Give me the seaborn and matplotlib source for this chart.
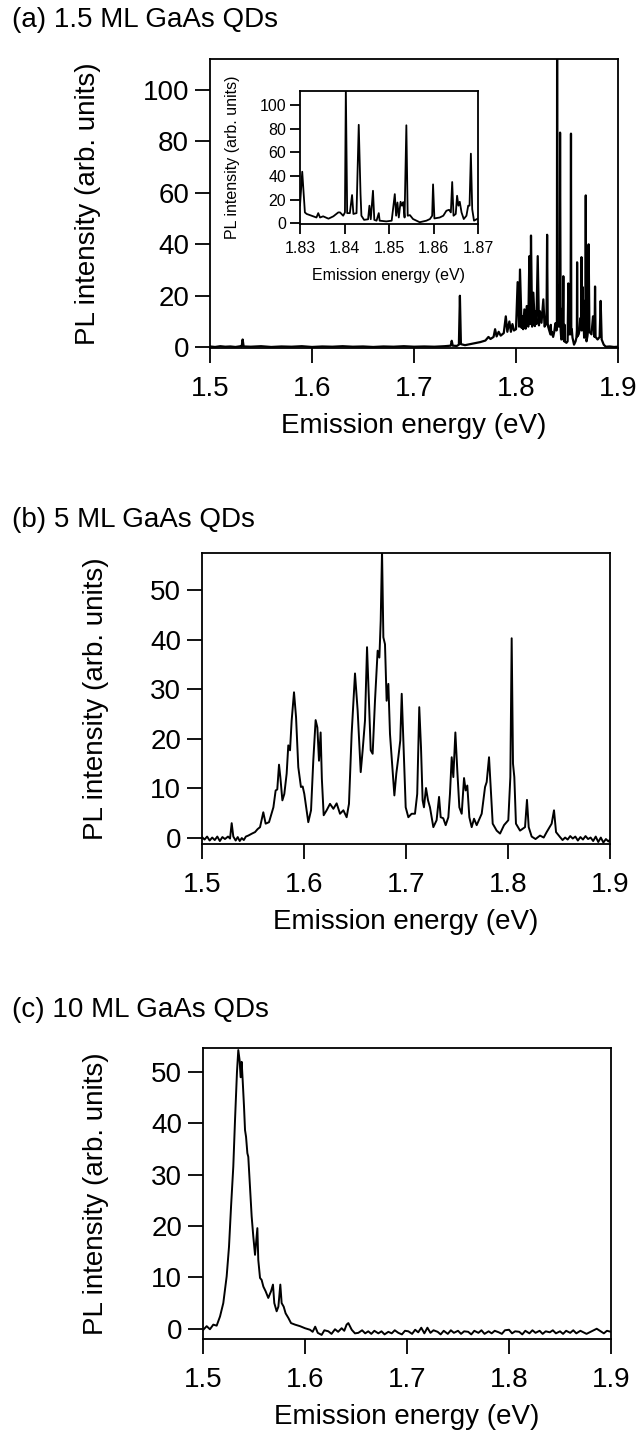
import numpy as np
import pandas as pd
import seaborn as sns
import matplotlib.pyplot as plt

# (a) 1.5 ML, main panel outside the zoom window
a_low_e = [1.500, 1.505, 1.510, 1.515, 1.520, 1.525, 1.530, 1.531, 1.532, 1.533,
           1.540, 1.550, 1.560, 1.570, 1.580, 1.590, 1.600, 1.610, 1.620, 1.630,
           1.640, 1.650, 1.660, 1.670, 1.680, 1.690, 1.700, 1.710, 1.720, 1.730,
           1.736, 1.737, 1.738, 1.742, 1.744, 1.745, 1.746, 1.750, 1.755, 1.760,
           1.765, 1.770, 1.773, 1.775, 1.778, 1.7795, 1.781, 1.783, 1.785, 1.788,
           1.790, 1.7915, 1.7935, 1.795, 1.7965, 1.798, 1.800, 1.8016, 1.803, 1.8039,
           1.8055, 1.806, 1.807, 1.8082, 1.8095, 1.8105, 1.812, 1.8131, 1.814, 1.8147,
           1.8158, 1.817, 1.8185, 1.819, 1.820, 1.8213, 1.8225, 1.8235, 1.825, 1.8268,
           1.828, 1.8295]
a_low_i = [0.3, 0.1, 0.4, 0.2, 0.3, 0.1, 0.4, 0.2, 3.0, 0.3,
           0.2, 0.4, 0.1, 0.3, 0.2, 0.4, 0.1, 0.3, 0.2, 0.4,
           0.2, 0.3, 0.1, 0.3, 0.2, 0.4, 0.2, 0.3, 0.2, 0.4,
           0.6, 2.5, 0.6, 0.5, 1.0, 20.0, 1.2, 0.8, 1.2, 1.6,
           2.0, 2.6, 4.0, 3.2, 4.0, 7.0, 4.2, 6.0, 4.5, 5.5,
           12.0, 6.0, 10.0, 6.0, 9.0, 6.5, 7.0, 25.3, 8.0, 30.2,
           7.5, 12.0, 7.0, 14.7, 7.2, 16.0, 8.0, 35.4, 9.0, 43.4,
           8.0, 21.2, 8.2, 14.0, 9.0, 35.4, 8.5, 14.0, 9.5, 18.6,
           8.0, 9.0]

# (a) inset window 1.83 - 1.87 eV
in_e = [1.8300, 1.8305, 1.8311, 1.8315, 1.8326, 1.8337, 1.8341, 1.8345, 1.8352, 1.8364,
        1.8375, 1.8386, 1.8390, 1.8397, 1.8401, 1.8403, 1.8406, 1.8412, 1.8417, 1.8420,
        1.8427, 1.8432, 1.8436, 1.8438, 1.8444, 1.8453, 1.8456, 1.8459, 1.8464, 1.8467,
        1.8472, 1.8477, 1.8479, 1.8494, 1.8506, 1.8510, 1.8513, 1.8516, 1.8519, 1.8522,
        1.8526, 1.8529, 1.8532, 1.8535, 1.8539, 1.8542, 1.8547, 1.8554, 1.8569, 1.8584,
        1.8592, 1.8597, 1.8599, 1.8602, 1.8614, 1.8622, 1.8629, 1.8635, 1.8639, 1.8642,
        1.8645, 1.8650, 1.8653, 1.8656, 1.8659, 1.8663, 1.8668, 1.8674, 1.8678, 1.8681,
        1.8684, 1.8687, 1.8691, 1.8700]
in_i = [15.0, 43.7, 9.3, 8.0, 6.5, 5.0, 8.7, 5.0, 6.0, 4.0,
        6.0, 9.3, 9.3, 6.5, 9.3, 115.0, 8.7, 8.7, 24.0, 8.0,
        8.7, 83.4, 25.0, 6.5, 3.0, 3.5, 15.0, 3.5, 27.6, 3.0,
        2.3, 8.7, 2.3, 1.7, 2.3, 15.0, 24.8, 6.5, 17.7, 5.0,
        18.3, 15.0, 18.0, 5.0, 83.0, 6.5, 7.0, 3.7, 1.0, 2.3,
        3.7, 6.5, 33.0, 4.2, 5.0, 6.5, 10.7, 11.5, 9.3, 35.0,
        6.5, 8.0, 23.4, 15.0, 18.3, 9.3, 3.7, 6.5, 15.0, 15.0,
        59.0, 12.0, 2.3, 4.2]

a_high_e = [1.8705, 1.8712, 1.872, 1.874, 1.8755, 1.877, 1.8775, 1.878, 1.880, 1.882,
            1.883, 1.884, 1.886, 1.888, 1.892, 1.896, 1.900]
a_high_i = [6.0, 40.0, 6.0, 5.0, 12.0, 4.0, 23.6, 4.0, 3.0, 4.0,
            18.0, 3.0, 1.0, 0.2, 0.3, 0.1, 0.2]

# (b) 5 ML
b_e = [1.500, 1.5025, 1.505, 1.5075, 1.510, 1.5125, 1.515, 1.5175, 1.520, 1.5225,
       1.5255, 1.5275, 1.5291, 1.5307, 1.533, 1.535, 1.537, 1.539, 1.541, 1.543,
       1.5454, 1.549, 1.552, 1.5545, 1.5569, 1.5601, 1.5624, 1.5657, 1.570, 1.5722,
       1.5738, 1.5755, 1.5768, 1.5788, 1.5807, 1.583, 1.5846, 1.5863, 1.5879, 1.5902,
       1.5922, 1.5944, 1.597, 1.5987, 1.6003, 1.6042, 1.6069, 1.6091, 1.6114, 1.6131,
       1.6147, 1.6163, 1.6175, 1.6193, 1.6222, 1.6255, 1.6288, 1.632, 1.6353, 1.6386,
       1.6418, 1.6441, 1.6467, 1.650, 1.6526, 1.6556, 1.6575, 1.6598, 1.6618, 1.6634,
       1.6654, 1.6673, 1.6696, 1.6722, 1.6739, 1.6752, 1.6765, 1.6778, 1.6794, 1.681,
       1.6827, 1.6843, 1.6866, 1.6886, 1.6905, 1.6925, 1.6944, 1.6958, 1.6974, 1.6997,
       1.7023, 1.7055, 1.7088, 1.711, 1.713, 1.7147, 1.7163, 1.7176, 1.7196, 1.7216,
       1.7235, 1.7268, 1.730, 1.7324, 1.734, 1.7365, 1.7389, 1.7415, 1.7431, 1.7448,
       1.7464, 1.7484, 1.7503, 1.7523, 1.7546, 1.7569, 1.7585, 1.7601, 1.7621, 1.7644,
       1.7667, 1.7693, 1.7742, 1.7775, 1.7791, 1.7814, 1.783, 1.785, 1.7889, 1.7922,
       1.7961, 1.8003, 1.8023, 1.8036, 1.8049, 1.8062, 1.8078, 1.8118, 1.8167, 1.8186,
       1.8203, 1.8232, 1.827, 1.8314, 1.835, 1.8379, 1.8428, 1.8451, 1.8471, 1.851,
       1.8535, 1.856, 1.8585, 1.861, 1.8635, 1.866, 1.8685, 1.871, 1.8735, 1.876,
       1.8785, 1.881, 1.8835, 1.886, 1.8885, 1.891, 1.8935, 1.896, 1.8985, 1.900]
b_i = [0.2, -0.3, 0.3, -0.5, 0.1, -0.4, 0.3, -0.6, 0.2, -0.2,
       0.3, -0.1, 3.0, 0.3, -0.5, 0.2, -0.6, 0.0, -0.4, 0.3,
       0.5, 0.9, 1.2, 1.8, 2.2, 5.2, 2.9, 3.2, 6.2, 9.6,
       9.8, 14.8, 12.3, 7.6, 8.9, 13.0, 18.7, 17.7, 23.7, 29.4,
       24.4, 14.3, 10.3, 10.4, 8.9, 3.2, 5.6, 15.6, 23.8, 22.3,
       15.6, 21.3, 12.0, 4.6, 5.6, 6.9, 5.9, 7.0, 4.9, 5.6,
       4.2, 6.9, 21.0, 33.2, 25.7, 13.3, 17.7, 23.7, 38.5, 29.1,
       17.7, 17.0, 27.7, 37.8, 36.4, 43.8, 58.0, 40.5, 39.1, 27.7,
       31.1, 21.0, 14.3, 8.6, 13.0, 16.3, 19.7, 29.1, 19.7, 6.2,
       4.2, 4.9, 4.9, 8.9, 26.4, 18.3, 7.6, 6.2, 10.1, 7.6,
       6.2, 2.2, 3.6, 8.3, 4.2, 4.0, 2.6, 4.2, 8.9, 16.3,
       12.3, 21.3, 13.6, 6.2, 4.9, 12.1, 9.6, 10.6, 4.2, 2.2,
       3.9, 2.6, 4.9, 10.3, 11.3, 16.3, 10.3, 2.9, 1.5, 0.9,
       2.6, 3.6, 12.3, 40.3, 15.0, 12.3, 2.9, 1.5, 2.2, 7.7,
       2.2, 0.3, -0.2, 0.5, 0.1, 1.2, 2.9, 5.6, 1.2, 0.2,
       -0.4, 0.1, -0.3, 0.4, -0.1, 0.3, -0.5, 0.2, -0.3, 0.4,
       -0.2, 0.1, -0.6, 0.3, -0.8, 0.1, -0.9, -0.2, -0.7, -0.3]

# (c) 10 ML
c_e = [1.5003, 1.5036, 1.5068, 1.5101, 1.5134, 1.5167, 1.5199, 1.5232, 1.5255, 1.5275,
       1.5297, 1.5314, 1.5333, 1.5346, 1.5359, 1.5369, 1.5379, 1.5389, 1.5402, 1.5412,
       1.5422, 1.5435, 1.5444, 1.5461, 1.5477, 1.5493, 1.551, 1.5523, 1.5533, 1.5542,
       1.5559, 1.5575, 1.5592, 1.5614, 1.564, 1.5667, 1.5686, 1.5699, 1.5722, 1.5739,
       1.5758, 1.5771, 1.5791, 1.581, 1.5837, 1.5863, 1.5902, 1.5951, 1.600, 1.6049,
       1.6075, 1.610, 1.6125, 1.6163, 1.619, 1.6229, 1.626, 1.6294, 1.6325, 1.6359,
       1.6385, 1.6408, 1.6425, 1.6458, 1.649, 1.6523, 1.656, 1.659, 1.662, 1.665,
       1.668, 1.6719, 1.675, 1.678, 1.6817, 1.685, 1.688, 1.6915, 1.695, 1.698,
       1.7013, 1.705, 1.708, 1.711, 1.714, 1.717, 1.720, 1.723, 1.726, 1.730,
       1.733, 1.736, 1.740, 1.743, 1.746, 1.750, 1.753, 1.756, 1.760, 1.763,
       1.766, 1.770, 1.773, 1.776, 1.780, 1.783, 1.786, 1.790, 1.793, 1.796,
       1.800, 1.803, 1.806, 1.810, 1.813, 1.816, 1.820, 1.823, 1.826, 1.830,
       1.833, 1.836, 1.840, 1.843, 1.846, 1.850, 1.853, 1.856, 1.860, 1.863,
       1.866, 1.870, 1.873, 1.876, 1.880, 1.883, 1.886, 1.890, 1.893, 1.896,
       1.900]
c_i = [-0.2, 0.5, -0.1, 0.8, 0.6, 2.4, 5.0, 10.2, 16.0, 23.8,
       31.6, 40.7, 50.0, 54.3, 52.3, 49.0, 52.0, 48.4, 43.3, 38.7,
       37.4, 34.2, 33.5, 27.7, 21.9, 18.0, 14.4, 17.3, 19.6, 13.4,
       9.9, 9.5, 8.2, 7.3, 6.0, 7.3, 8.6, 5.0, 3.4, 4.3,
       8.6, 5.0, 4.3, 3.0, 2.1, 1.1, 0.8, 0.5, 0.1, -0.2,
       -0.6, 0.4, -0.8, -1.2, -0.3, -0.5, -1.0, -0.1, -0.6, 0.1,
       -0.4, 0.8, 1.1, -0.2, -0.9, -0.8, -0.3, -0.9, -0.5, -1.0,
       -0.4, -0.9, -0.5, -1.1, -0.6, -0.9, -0.3, -0.8, -1.1, -0.4,
       -0.5, -1.0, -0.2, -0.7, 0.2, -0.9, 0.2, -0.8, -0.3, -0.6,
       -1.1, -0.4, -1.0, -0.3, -0.8, -0.4, -1.0, -0.5, -0.6, -1.1,
       -0.4, -0.8, -0.3, -1.0, -0.5, -0.9, -0.4, -0.7, -1.0, -0.3,
       -0.2, -0.9, -0.5, -0.6, -1.1, -0.4, -0.9, -0.3, -0.8, -0.4,
       -1.0, -0.5, -0.7, -0.3, -0.9, -0.5, -1.0, -0.4, -0.8, -0.3,
       -0.9, -0.4, -0.7, -1.0, -0.6, -0.3, 0.0, -0.5, -0.9, -0.4,
       -0.6]

titles = ["(a) 1.5 ML GaAs QDs", "(b) 5 ML GaAs QDs", "(c) 10 ML GaAs QDs"]
main_xticks = [1.5, 1.6, 1.7, 1.8, 1.9]
inset_xticks = [1.83, 1.84, 1.85, 1.86, 1.87]
xlab = "Emission energy (eV)"
ylab = "PL intensity (arb. units)"

sns.set_theme(style="ticks")
plt.rcParams['font.family'] = ['Liberation Sans', 'DejaVu Sans']
plt.rcParams['axes.edgecolor'] = 'black'
plt.rcParams['axes.linewidth'] = 1.3
plt.rcParams['text.color'] = 'black'
plt.rcParams['axes.labelcolor'] = 'black'

W, H = 640, 1434
fig = plt.figure(figsize=(W / 100, H / 100), dpi=100)


def px_axes(l, t, r, b):
    return fig.add_axes([l / W, 1 - b / H, (r - l) / W, (b - t) / H])


def style(ax, size, tlen, xpad, ypad):
    ax.tick_params(axis='both', direction='out', length=tlen, width=1.3,
                   color='black', labelsize=size, labelcolor='black')
    ax.tick_params(axis='x', pad=xpad)
    ax.tick_params(axis='y', pad=ypad)
    ax.tick_params(top=False, right=False)
    for s in ax.spines.values():
        s.set_color('black')
        s.set_linewidth(1.3)
    ax.set_facecolor('white')


def draw(ax, e, i, lw=1.4):
    df = pd.DataFrame({"energy": e, "intensity": i})
    sns.lineplot(data=df, x="energy", y="intensity", ax=ax, color='black',
                 lw=lw, estimator=None, sort=False)


# panel geometry in pixels: left, top, right, bottom
boxes = [(210, 59, 618, 348), (202, 553, 610, 844), (203, 1048, 611, 1339)]
ylims = [(-0.3, 112), (-1.2, 57.5), (-2.0, 54.7)]
yticks = [np.arange(0, 101, 20), np.arange(0, 51, 10), np.arange(0, 51, 10)]
title_y = [20, 520, 1010]
ylab_x = [101, 109, 109]

a_e = a_low_e + in_e + a_high_e
a_i = a_low_i + in_i + a_high_i
series = [(a_e, a_i), (b_e, b_i), (c_e, c_i)]

for k in range(3):
    l, t, r, b = boxes[k]
    ax = px_axes(l, t, r, b)
    draw(ax, *series[k], lw=1.6 if k == 0 else 1.4)
    ax.set_xlim(1.5, 1.9)
    ax.set_ylim(*ylims[k])
    ax.set_xticks(main_xticks)
    ax.set_xticklabels([f"{v:.1f}" for v in main_xticks])
    ax.set_yticks(yticks[k])
    style(ax, 20, 11, 9, 4)
    ax.set_xlabel(xlab, fontsize=20)
    ax.set_ylabel(ylab, fontsize=20)
    ax.xaxis.set_label_coords(0.5, -0.225)
    ax.yaxis.set_label_coords((ylab_x[k] - l) / (r - l), 0.5)
    fig.text(12 / W, 1 - title_y[k] / H, titles[k], fontsize=20,
             va='center', ha='left')

# inset of panel (a)
ins = px_axes(300, 91, 478, 224)
draw(ins, in_e, in_i, lw=1.3)
ins.set_xlim(1.83, 1.87)
ins.set_ylim(-0.5, 112)
ins.set_xticks(inset_xticks)
ins.set_xticklabels([f"{v:.2f}" for v in inset_xticks])
ins.set_yticks(np.arange(0, 101, 20))
style(ins, 11.5, 7, 5, 3)
ins.set_xlabel(xlab, fontsize=11.5)
ins.set_ylabel(ylab, fontsize=11.5)
ins.xaxis.set_label_coords(0.5, -0.33)
ins.yaxis.set_label_coords((240 - 300) / 178, 0.5)

fig.savefig("out.png", dpi=100, facecolor='white')
